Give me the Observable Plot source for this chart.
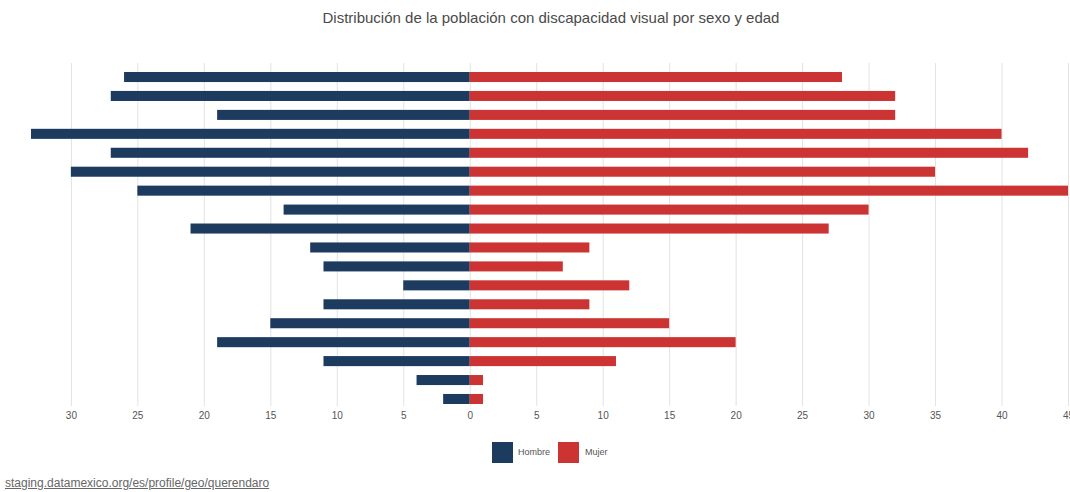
<!DOCTYPE html>
<html>
<head>
<meta charset="utf-8">
<script src="https://cdn.jsdelivr.net/npm/d3@7"></script>
<script src="https://cdn.jsdelivr.net/npm/@observablehq/plot@0.6"></script>
<style>
  html, body { margin: 0; padding: 0; background: #fff; width: 1070px; height: 492px; overflow: hidden; }
  body { position: relative; font-family: "Liberation Sans", sans-serif; }
  #title { position: absolute; top: 9px; left: 32px; width: 1038px; text-align: center; font-size: 15px; color: #4a4a4a; line-height: 18px; }
  #chart { position: absolute; top: 50px; left: 0; }
  #legend { position: absolute; top: 442px; left: 0; width: 1070px; height: 21px; }
  .sw { position: absolute; top: 0; width: 21px; height: 21px; }
  .lt { position: absolute; top: 0; line-height: 21px; font-size: 9px; color: #555; }
  #caption { position: absolute; top: 476px; left: 5px; font-family: "Liberation Sans", sans-serif; font-size: 12px; line-height: 14px; color: #666; text-decoration: underline; }
</style>
</head>
<body>
<div id="title">Distribución de la población con discapacidad visual por sexo y edad</div>
<div id="chart"></div>
<div id="legend">
  <div class="sw" style="left:492px;background:#1d3a5f"></div><div class="lt" style="left:518px">Hombre</div>
  <div class="sw" style="left:558px;background:#cc3333"></div><div class="lt" style="left:585px">Mujer</div>
</div>
<div id="caption">staging.datamexico.org/es/profile/geo/querendaro</div>
<script>
const ageGroups = ["85 y más","80 a 84","75 a 79","70 a 74","65 a 69","60 a 64","55 a 59","50 a 54","45 a 49","40 a 44","35 a 39","30 a 34","25 a 29","20 a 24","15 a 19","10 a 14","5 a 9","0 a 4"];
const hombre = [26,27,19,33,27,30,25,14,21,12,11,5,11,15,19,11,4,2];
const mujer  = [28,32,32,40,42,35,45,30,27,9,7,12,9,15,20,11,1,1];
const xTicks = [-30,-25,-20,-15,-10,-5,0,5,10,15,20,25,30,35,40,45];

const data = ageGroups.map((age, i) => ({age, hombre: hombre[i], mujer: mujer[i]}));

const chart = Plot.plot({
  width: 1070,
  height: 380,
  marginLeft: 31,
  marginRight: 2,
  marginTop: 13,
  marginBottom: 24,
  style: {fontFamily: '"Liberation Sans", sans-serif', background: "transparent"},
  x: {domain: [-33, 45], label: null},
  y: {domain: ageGroups, range: [13.1, 362.9], padding: 0.47, round: false, axis: null},
  marks: [
    Plot.ruleX(xTicks, {stroke: "#e2e2e2", strokeWidth: 1}),
    Plot.barX(data, {y: "age", x1: 0, x2: d => -d.hombre, fill: "#1d3a5f"}),
    Plot.barX(data, {y: "age", x1: 0, x2: "mujer", fill: "#cc3333"}),
    Plot.axisX({ticks: xTicks, tickFormat: d => Math.abs(d), tickSize: 0, tickPadding: 5.5, fontSize: 10, color: "#555", label: null})
  ]
});
document.getElementById("chart").appendChild(chart);
</script>
</body>
</html>
